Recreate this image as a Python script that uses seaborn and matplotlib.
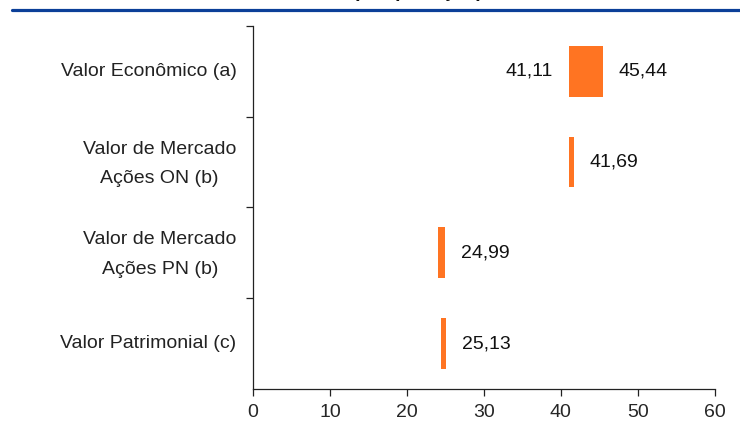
import matplotlib
matplotlib.use("Agg")
import matplotlib.pyplot as plt
from matplotlib.lines import Line2D
from matplotlib.ticker import FixedLocator
import seaborn as sns
import pandas as pd

# Valuation ranges per share (R$)
categories = [
    "Valor Econômico (a)",
    "Valor de Mercado\nAções ON (b)",
    "Valor de Mercado\nAções PN (b)",
    "Valor Patrimonial (c)",
]
range_low = [41.11, 41.00, 24.00, 24.45]
range_high = [45.44, 41.69, 24.99, 25.13]
title_text = "(R$, por ação)"
x_ticks = [0, 10, 20, 30, 40, 50, 60]

ORANGE = "#FF7422"
BLUE = "#0B3F98"
FONT = "Liberation Sans"
FS = 14

sns.set_style("ticks")
plt.rcParams["font.family"] = [FONT, "DejaVu Sans"]

df = pd.DataFrame({
    "categoria": categories,
    "low": range_low,
    "high": range_high,
})
df["span"] = df["high"] - df["low"]

fig = plt.figure(figsize=(7.40, 4.26), dpi=100)
ax = fig.add_axes([0.342, 0.087, 0.624, 0.852])

sns.barplot(
    data=df, x="span", y="categoria", order=categories,
    left=df["low"].tolist(), color=ORANGE, width=0.56,
    saturation=1, linewidth=0, ax=ax,
)

ax.set_xlim(0, 60)
ax.set_ylim(3.5, -0.5)
ax.set_xticks(x_ticks)
ax.set_xlabel("")
ax.set_ylabel("")
ax.set_yticks(range(len(categories)))
ax.set_yticklabels([""] * len(categories))

# category names, centred line by line beside the axis
for i, cat in enumerate(categories):
    dy = -1.2 if "\n" in cat else 0
    ax.annotate(cat, xy=(0, i), xycoords=("axes fraction", "data"),
                xytext=(-12, dy), textcoords="offset points",
                ha="right", va="center", multialignment="center",
                linespacing=1.95, fontsize=FS, color="#222222")

# category boundaries carry the tick marks
ax.yaxis.set_minor_locator(FixedLocator([-0.5, 0.5, 1.5, 2.5]))
ax.tick_params(axis="y", which="major", length=0)
ax.tick_params(axis="y", which="minor", length=5, width=0.9, color="#222222")
ax.tick_params(axis="x", which="major", length=5, width=0.9, color="#222222",
               labelsize=FS, pad=6)

sns.despine(ax=ax)
for side in ("left", "bottom"):
    ax.spines[side].set_linewidth(0.9)
    ax.spines[side].set_color("#222222")

# value labels
for i, row in df.iterrows():
    ax.annotate(f"{row['high']:.2f}".replace(".", ","),
                xy=(row["high"], i), xytext=(11, 0), textcoords="offset points",
                ha="left", va="center", fontsize=FS, color="#111111")
    if i == 0:
        ax.annotate(f"{row['low']:.2f}".replace(".", ","),
                    xy=(row["low"], i), xytext=(-12, 0), textcoords="offset points",
                    ha="right", va="center", fontsize=FS, color="#111111")

# header rule and title
fig.add_artist(Line2D([12 / 740, 1.0], [1 - 9.5 / 426] * 2, color=BLUE,
                      linewidth=2.3, transform=fig.transFigure))
fig.text(418 / 740, 1 + 3 / 426, title_text, ha="center", va="baseline",
         fontsize=FS, fontweight="bold", color="#111111")

fig.savefig("out.png", dpi=100)
